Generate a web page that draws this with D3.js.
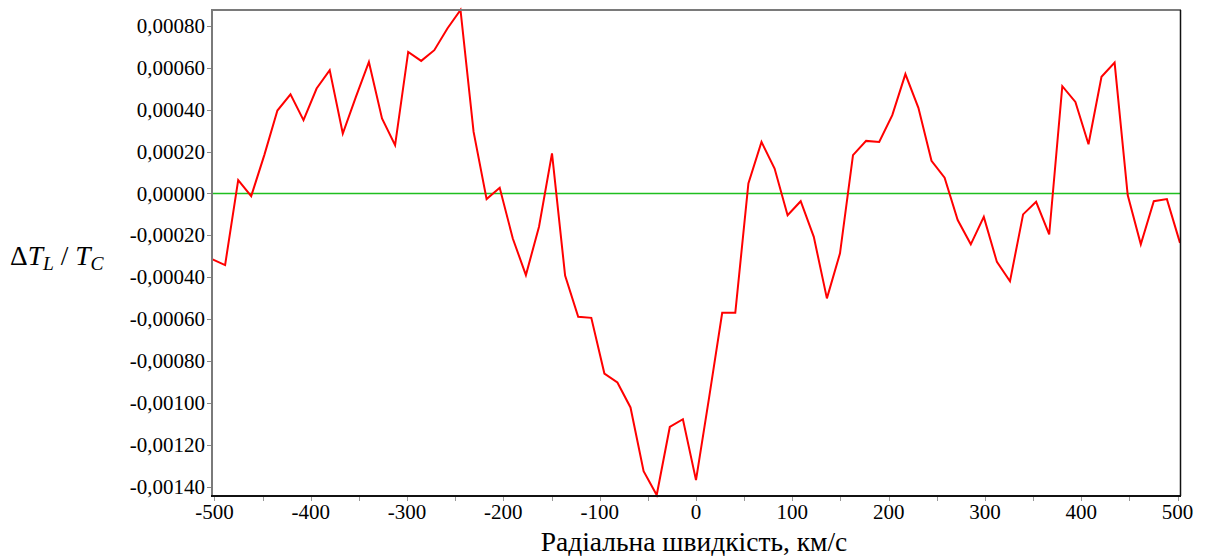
<!DOCTYPE html>
<html>
<head>
<meta charset="utf-8">
<script src="https://cdn.jsdelivr.net/npm/d3@7"></script>
<style>
  html, body { margin: 0; padding: 0; background: #fff; }
  svg { display: block; }
  text { font-family: "Liberation Serif", "Times New Roman", serif; fill: #000; }
</style>
</head>
<body>
<svg id="chart" width="1206" height="556"></svg>
<script>
// Radial velocity grid, km/s
const velocity = [
  -502.5, -488.9, -475.3, -461.8, -448.2, -434.6, -421.0, -407.5, -393.9, -380.3,
  -366.7, -353.1, -339.6, -326.0, -312.4, -298.8, -285.3, -271.7, -258.1, -244.5,
  -230.9, -217.4, -203.8, -190.2, -176.6, -163.0, -149.5, -135.9, -122.3, -108.7,
  -95.1, -81.6, -68.0, -54.4, -40.8, -27.2, -13.6, 0.0, 13.6, 27.2,
  40.8, 54.4, 68.0, 81.6, 95.1, 108.7, 122.3, 135.9, 149.5, 163.0,
  176.6, 190.2, 203.8, 217.4, 230.9, 244.5, 258.1, 271.7, 285.3, 298.8,
  312.4, 326.0, 339.6, 353.1, 366.7, 380.3, 393.9, 407.5, 421.0, 434.6,
  448.2, 461.8, 475.3, 488.9, 502.5
];

// Relative line depth ΔT_L / T_C
const deltaT = [
  -0.000314, -0.000342, 0.000064, -0.000013, 0.000183, 0.000396, 0.000473, 0.000350, 0.000501, 0.000589,
  0.000286, 0.000461, 0.000628, 0.000358, 0.000231, 0.000676, 0.000633, 0.000684, 0.000788, 0.000876,
  0.000294, -0.000027, 0.000027, -0.000215, -0.000390, -0.000159, 0.000191, -0.000392, -0.000589, -0.000594,
  -0.000860, -0.000903, -0.001022, -0.001326, -0.001440, -0.001115, -0.001078, -0.001369, -0.000975, -0.000570,
  -0.000570, 0.000048, 0.000246, 0.000119, -0.000104, -0.000037, -0.000207, -0.000501, -0.000286, 0.000183,
  0.000251, 0.000246, 0.000374, 0.000570, 0.000409, 0.000156, 0.000075, -0.000127, -0.000243, -0.000112,
  -0.000327, -0.000419, -0.000100, -0.000040, -0.000196, 0.000512, 0.000437, 0.000235, 0.000557, 0.000625,
  -0.000008, -0.000243, -0.000037, -0.000027, -0.000236
];

const yTicks = [0.0008, 0.0006, 0.0004, 0.0002, 0, -0.0002, -0.0004, -0.0006, -0.0008, -0.001, -0.0012, -0.0014];
const xTicks = [-500, -400, -300, -200, -100, 0, 100, 200, 300, 400, 500];
const xMinorTicks = [-450, -350, -250, -150, -50, 50, 150, 250, 350, 450];

const data = velocity.map((v, i) => ({ v, d: deltaT[i] }));

const plot = { left: 212, top: 10, right: 1180, bottom: 495 };

const svg = d3.select("#chart");

const x = d3.scaleLinear()
  .domain(d3.extent(velocity))
  .range([plot.left, plot.right]);

const y = d3.scaleLinear()
  .domain(d3.extent(deltaT))
  .range([plot.bottom, plot.top]);

const fmtY = v => {
  const s = Math.abs(v).toFixed(5).replace(".", ",");
  return (v < -1e-12 ? "-" : "") + s;
};
const fmtX = v => (v < 0 ? "-" : "") + Math.abs(v);

// Zero reference line
svg.append("line")
  .attr("x1", plot.left).attr("x2", plot.right)
  .attr("y1", y(0)).attr("y2", y(0))
  .attr("stroke", "#1fbf1f").attr("stroke-width", 1.6);

// Profile curve
const line = d3.line().x(p => x(p.v)).y(p => y(p.d));
svg.append("path")
  .datum(data)
  .attr("d", line)
  .attr("fill", "none")
  .attr("stroke", "#ff0000")
  .attr("stroke-width", 2)
  .attr("stroke-linejoin", "miter");

// Frame: top/left grey, bottom/right black
svg.append("line").attr("x1", plot.left).attr("x2", plot.right + 1)
  .attr("y1", plot.top).attr("y2", plot.top)
  .attr("stroke", "#7a7a7a").attr("stroke-width", 2);
svg.append("line").attr("x1", plot.left).attr("x2", plot.left)
  .attr("y1", plot.top - 1).attr("y2", plot.bottom + 1)
  .attr("stroke", "#7a7a7a").attr("stroke-width", 2);
svg.append("line").attr("x1", plot.left - 1).attr("x2", plot.right + 1)
  .attr("y1", plot.bottom + 1).attr("y2", plot.bottom + 1)
  .attr("stroke", "#111").attr("stroke-width", 2);
svg.append("line").attr("x1", plot.right + 0.5).attr("x2", plot.right + 0.5)
  .attr("y1", plot.top).attr("y2", plot.bottom + 1)
  .attr("stroke", "#111").attr("stroke-width", 1.5);

// Y axis ticks and labels
const yAxis = svg.append("g").attr("class", "y-axis");
yAxis.selectAll("line").data(yTicks).enter().append("line")
  .attr("x1", plot.left - 5).attr("x2", plot.left - 1)
  .attr("y1", d => Math.round(y(d)) + 0.5).attr("y2", d => Math.round(y(d)) + 0.5)
  .attr("stroke", "#888").attr("stroke-width", 1);
yAxis.selectAll("text").data(yTicks).enter().append("text")
  .attr("x", plot.left - 7)
  .attr("y", d => y(d))
  .attr("dy", "0.34em")
  .attr("text-anchor", "end")
  .attr("font-size", 21)
  .text(fmtY);

// X axis ticks and labels
const xAxis = svg.append("g").attr("class", "x-axis");
xAxis.selectAll("line.major").data(xTicks.concat(xMinorTicks)).enter().append("line")
  .attr("x1", d => Math.round(x(d)) + 0.5).attr("x2", d => Math.round(x(d)) + 0.5)
  .attr("y1", plot.bottom + 2).attr("y2", plot.bottom + 6)
  .attr("stroke", "#999").attr("stroke-width", 1);
xAxis.selectAll("text").data(xTicks).enter().append("text")
  .attr("x", d => x(d))
  .attr("y", plot.bottom + 24)
  .attr("text-anchor", "middle")
  .attr("font-size", 21)
  .text(fmtX);

// Axis titles
svg.append("text")
  .attr("x", (plot.left + plot.right) / 2 - 2)
  .attr("y", 551)
  .attr("text-anchor", "middle")
  .attr("font-size", 27.5)
  .text("Радіальна швидкість, км/с");

const yTitle = svg.append("text")
  .attr("x", 10)
  .attr("y", 265)
  .attr("font-size", 27.5);
yTitle.append("tspan").text("Δ");
yTitle.append("tspan").attr("font-style", "italic").text("T");
yTitle.append("tspan").attr("font-style", "italic").attr("font-size", 19.5).attr("dy", 5).text("L");
yTitle.append("tspan").attr("dy", -5).text(" / ");
yTitle.append("tspan").attr("font-style", "italic").text("T");
yTitle.append("tspan").attr("font-style", "italic").attr("font-size", 19.5).attr("dy", 5).text("C");
</script>
</body>
</html>
